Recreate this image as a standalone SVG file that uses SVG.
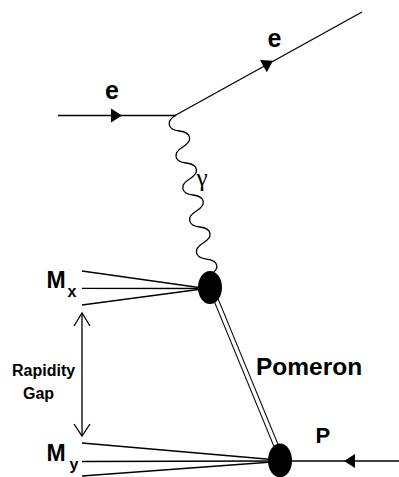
<svg xmlns="http://www.w3.org/2000/svg" width="399" height="477" viewBox="0 0 399 477">
<style>
.ln{stroke:#000;stroke-width:1.3;fill:none}
.lbl{font-family:"Liberation Sans",Arial,sans-serif;font-weight:bold;fill:#000}
.blob{fill:#000}
.ah{fill:#000}
</style>
<rect width="399" height="477" fill="#fff"/>
<g id="connectors">
  <line class="ln" x1="58" y1="115.5" x2="176" y2="115.5"/>
  <polygon class="ah" points="122,115.5 111,108.5 111,122.5"/>
  <line class="ln" x1="175" y1="115.5" x2="362" y2="12"/>
  <polygon class="ah" points="0,0 -11,-7 -11,7" transform="translate(273,60.7) rotate(-29)"/>
  <path class="ln" transform="translate(176,115) rotate(78)" d="M0,0 C4,11.5 12.36,11.5 16.36,0 S28.72,-11.5 32.72,0 S45.08,11.5 49.08,0 S61.44,-11.5 65.44,0 S77.8,11.5 81.8,0 S94.16,-11.5 98.16,0 S110.52,11.5 114.52,0 S126.88,-11.5 130.88,0 S143.24,11.5 147.24,0 S159.6,-11.5 163.6,0"/>
  <line x1="212" y1="290" x2="282" y2="460" stroke="#000" stroke-width="5.6"/>
  <line x1="212" y1="290" x2="282" y2="460" stroke="#fff" stroke-width="3.4"/>
  <line class="ln" x1="82" y1="271" x2="206" y2="288.5"/>
  <line class="ln" x1="82" y1="288.3" x2="206" y2="288.5"/>
  <line class="ln" x1="82" y1="305" x2="206" y2="288.5"/>
  <line class="ln" x1="82" y1="443" x2="272" y2="459.5"/>
  <line class="ln" x1="82" y1="461.5" x2="272" y2="461"/>
  <line class="ln" x1="82" y1="476" x2="272" y2="462"/>
  <line class="ln" x1="280" y1="461" x2="399" y2="461"/>
  <polygon class="ah" points="344,461 355,454 355,468"/>
  <line class="ln" x1="82" y1="314" x2="82" y2="435" stroke-width="1.5"/>
  <polyline class="ln" points="74,326 82,313 90,326" stroke-width="1.5"/>
  <polyline class="ln" points="74,424 82,436 90,424" stroke-width="1.5"/>
</g>
<g id="blob-upper"><ellipse class="blob" cx="210" cy="287.5" rx="12" ry="16.5"/></g>
<g id="blob-lower"><ellipse class="blob" cx="280" cy="460.5" rx="12" ry="17"/></g>
<g id="label-e-in"><text class="lbl" x="112" y="98.5" font-size="25" text-anchor="middle">e</text></g>
<g id="label-e-out"><text class="lbl" x="274.5" y="46.5" font-size="25" text-anchor="middle">e</text></g>
<g id="label-gamma"><text x="196.5" y="186" font-size="25" font-family="'Liberation Serif','Times New Roman',serif">γ</text></g>
<g id="label-mx"><text class="lbl" x="46.5" y="288" font-size="23">M</text><text class="lbl" x="67.5" y="297" font-size="16">x</text></g>
<g id="label-my"><text class="lbl" x="46.5" y="461" font-size="23">M</text><text class="lbl" x="69.5" y="470" font-size="16">y</text></g>
<g id="label-gap"><text class="lbl" x="12" y="376" font-size="16">Rapidity</text><text class="lbl" x="23" y="399" font-size="16">Gap</text></g>
<g id="label-pomeron"><text class="lbl" x="256" y="375" font-size="24.5">Pomeron</text></g>
<g id="label-p"><text class="lbl" x="315.5" y="443" font-size="22">P</text></g>
</svg>
